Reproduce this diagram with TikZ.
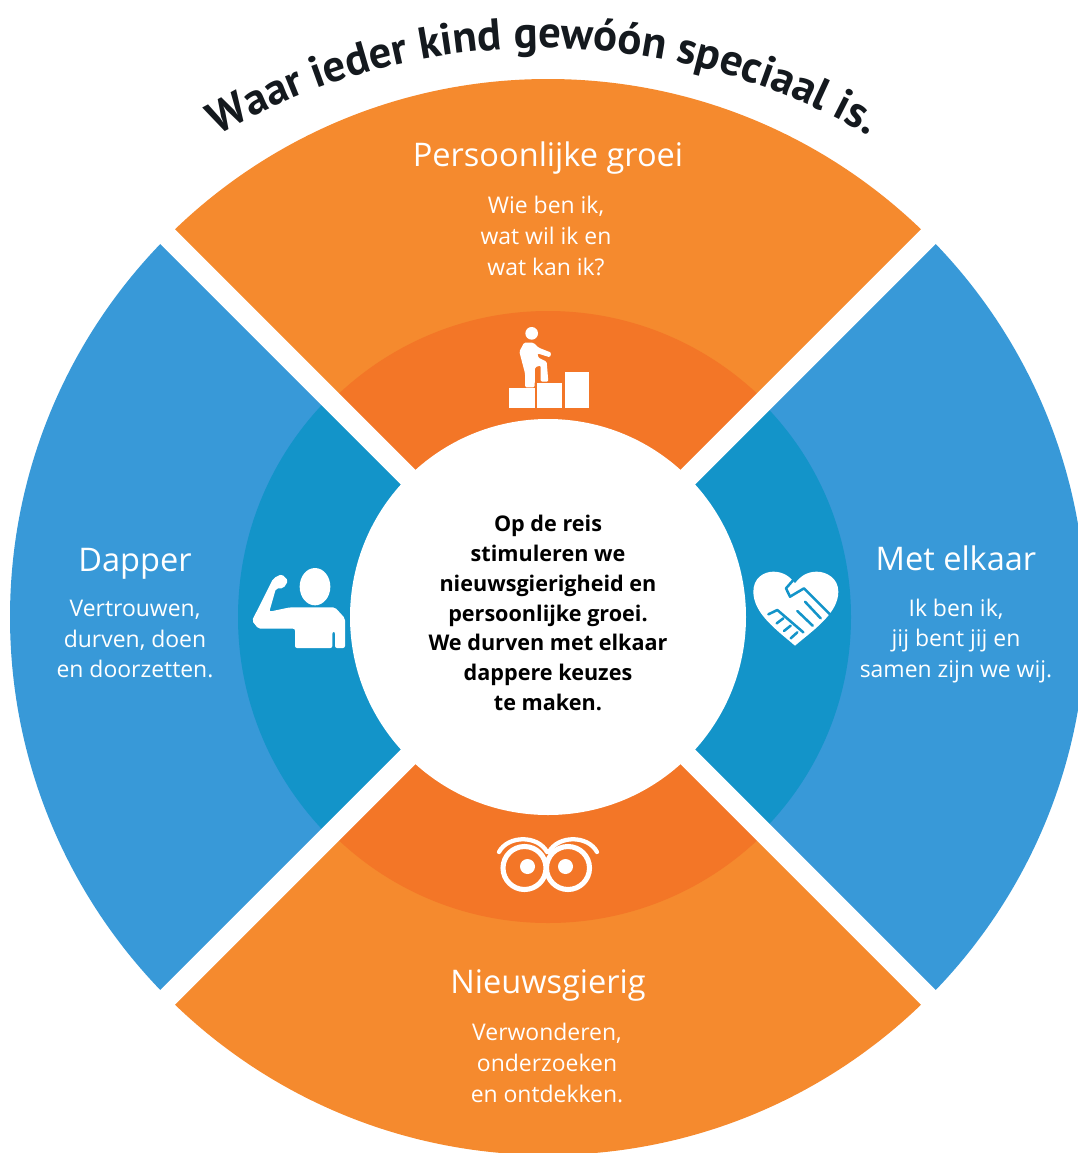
\documentclass[tikz,border=0pt]{standalone}
\usepackage{fontspec}
\setmainfont{Open Sans}
\newfontfamily\ttlfont{PT Sans}
\usetikzlibrary{decorations.text}
\definecolor{orA}{HTML}{F58A2E}
\definecolor{orB}{HTML}{F37627}
\definecolor{blA}{HTML}{3899D8}
\definecolor{blB}{HTML}{1394C9}
\definecolor{ttl}{HTML}{14191E}
\tikzset{
  headtxt/.style={text=white,font=\fontsize{24.4}{28}\selectfont,inner sep=0pt},
  bodytxt/.style={text=white,font=\fontsize{17.2}{23.2}\selectfont,align=center,inner sep=0pt},
  midtxt/.style={text=black,font=\fontsize{16.2}{22.3}\selectfont\bfseries,align=center,inner sep=0pt},
  icon/.style={fill=white,draw=none},
  cutline/.style={draw=blB,line width=1.9pt,line cap=round,line join=round}
}
\begin{document}
\begin{tikzpicture}[x=0.75pt,y=-0.75pt]
\useasboundingbox (0,0) rectangle (1078,1153);
\clip (0,0) rectangle (1078,1153);
\coordinate (c) at (548,617);
% sectors
\begin{scope}
 \clip (c) -- ++(-700,-700) -- ++(1400,0) -- cycle;
 \fill[orA] (c) circle (538);
 \fill[orB] (c) circle (306);
\end{scope}
\begin{scope}
 \clip (c) -- ++(-700,700) -- ++(1400,0) -- cycle;
 \fill[orA] (c) circle (538);
 \fill[orB] (c) circle (306);
\end{scope}
\begin{scope}
 \clip (c) -- ++(-700,-700) -- ++(0,1400) -- cycle;
 \fill[blA] (c) circle (538);
 \fill[blB] (c) circle (310);
\end{scope}
\begin{scope}
 \clip (c) -- ++(700,-700) -- ++(0,1400) -- cycle;
 \fill[blA] (c) circle (538);
 \fill[blB] (c) circle (303);
\end{scope}
% white bands and centre
\draw[white,line width=15.5pt] (c) ++(-600,-600) -- ++(1200,1200);
\draw[white,line width=15.5pt] (c) ++(600,-600) -- ++(-1200,1200);
\fill[white] (c) circle (198);
% curved title
\path[decorate,decoration={text along path,text align=center,
  text={|\ttlfont\fontsize{33.5}{36}\selectfont\bfseries\color{ttl}|Waar ieder kind gewóón speciaal is.}}]
  (543,698) ++(222:650) arc[start angle=222,end angle=318,radius=650];
% texts
\node[headtxt] (t1) at (548,158) {Persoonlijke groei};
\node[bodytxt] (b1) at (546,236) {Wie ben ik,\\wat wil ik en\\ wat kan ik?};
\node[headtxt] (t2) at (135,564) {Dapper};
\node[bodytxt] (b2) at (135,639) {Vertrouwen,\\durven, doen\\en doorzetten.};
\node[headtxt] (t3) at (956,558) {Met elkaar};
\node[bodytxt] (b3) at (956,641) {Ik ben ik,\\jij bent jij en\\samen zijn we wij.};
\node[headtxt] (t4) at (548,985) {Nieuwsgierig};
\node[bodytxt] (b4) at (547,1063) {Verwonderen,\\onderzoeken\\en ontdekken.};
\node[midtxt] (m) at (548,613) {Op de reis\\stimuleren we\\nieuwsgierigheid en\\persoonlijke groei.\\We durven met elkaar\\dappere keuzes\\te maken.};
% stairs icon
\begin{scope}[shift={(480,310)},x=0.25pt,y=-0.25pt]
 \fill[icon] (88,235) rectangle (165,293);
 \fill[icon] (172,218) rectangle (247,293);
 \fill[icon] (256,185) rectangle (328,293);
 \fill[icon] (155,70) circle (19);
 \fill[icon,rounded corners=1pt] (132,98) -- (118,125) -- (135,190) -- (135,232) -- (164,232) -- (165,172) -- (182,166) -- (182,215) -- (205,215) -- (200,155) -- (175,143) -- (172,130) -- (210,142) -- (214,128) -- (176,113) -- (160,98) -- cycle;
\end{scope}
% eyes icon
\draw[white,line width=3.8pt] (524.5,868) circle (21.5);
\draw[white,line width=3.8pt] (568,868) circle (21.5);
\fill[white] (527.5,866.5) circle (7.5);
\fill[white] (565.5,866.5) circle (7.5);
\draw[white,line width=3.2pt,line cap=round] (499,852) .. controls (508,835) and (538,835) .. (547,852);
\draw[white,line width=3.2pt,line cap=round] (549,852) .. controls (558,835) and (588,835) .. (597,852);
% strength icon
\begin{scope}[shift={(240,550)},x=0.25pt,y=-0.25pt]
 \fill[icon] (225,110) ellipse (46 and 56);
 \fill[icon,rounded corners=1.5pt] (100,85) -- (125,72) -- (145,92) -- (130,115) -- (108,115) -- (88,185) -- (150,172) -- (285,172) -- (315,205) -- (315,294) -- (285,294) -- (285,245) -- (277,245) -- (277,294) -- (165,294) -- (165,236) -- (55,236) -- (36,212) -- cycle;
\end{scope}
% heart icon
\begin{scope}[shift={(740,555)},x=0.25pt,y=-0.25pt]
 \fill[icon] (165,272) .. controls (110,225) and (40,175) .. (40,110)
   .. controls (40,70) and (70,50) .. (100,50)
   .. controls (130,50) and (150,65) .. (165,85)
   .. controls (180,65) and (200,50) .. (230,50)
   .. controls (260,50) and (295,70) .. (295,110)
   .. controls (295,175) and (220,225) .. (165,272) -- cycle;
 \draw[cutline] (160,75) -- (138,100) -- (150,125) -- (192,100) -- (270,178);
 \draw[cutline] (195,140) -- (242,190);
 \draw[cutline] (172,168) -- (218,212);
 \draw[cutline] (85,178) -- (112,165) -- (190,232);
 \draw[cutline] (110,205) -- (130,190);
 \draw[cutline] (132,228) -- (152,212);
 \draw[cutline] (152,250) -- (172,232);
\end{scope}
\end{tikzpicture}
\end{document}
